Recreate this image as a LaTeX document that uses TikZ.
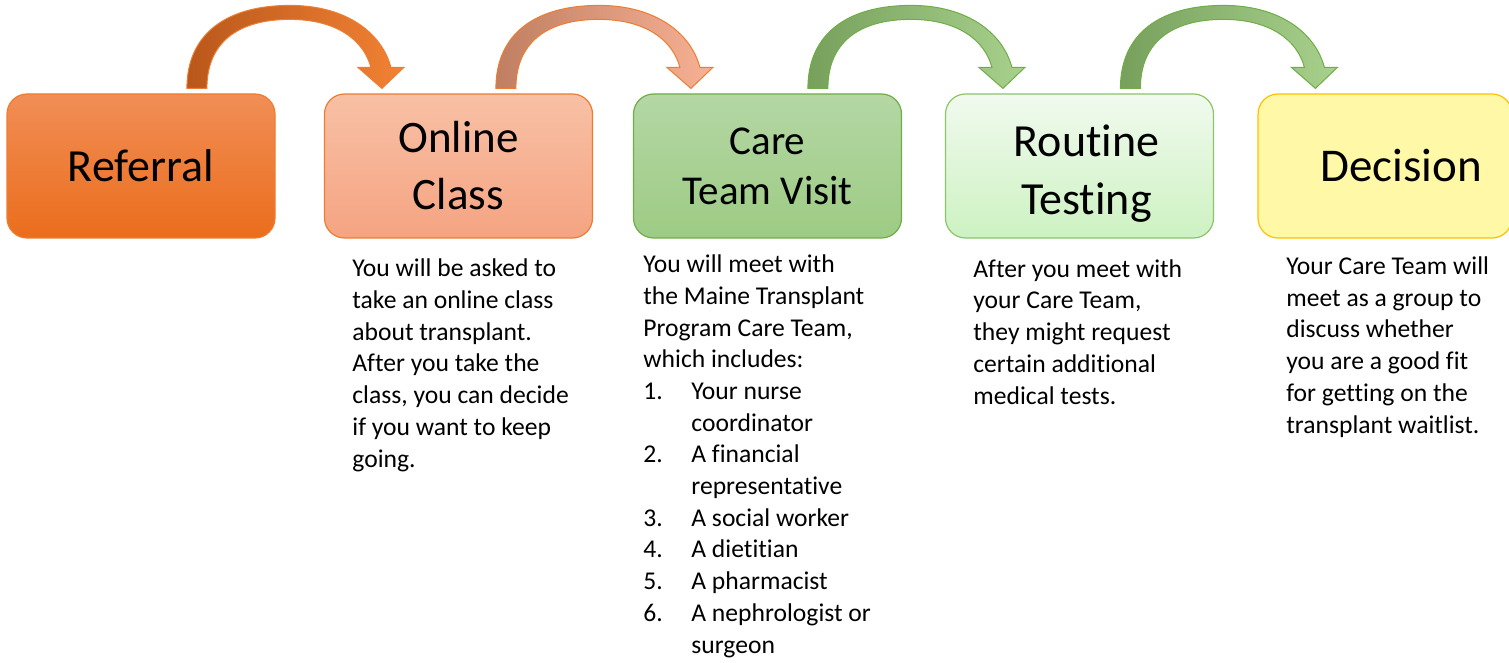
\documentclass[tikz,border=0pt]{standalone}
\usepackage{fontspec}
\setmainfont{Carlito}[Ligatures=NoCommon]
\usetikzlibrary{calc}

% Curved block arrow from the top of one box down onto the next one
\newcommand{\bendarrow}[3]{%
  \begin{scope}[shift={($(#1.north -| #2.west)+(-137,-5)$)}]
    \draw[#3] (0,0) .. controls (0,-55) and (40,-83) .. (103,-83)
      .. controls (160,-83) and (195,-55) .. (204,-21)
      -- (217,-21) -- (195,0) -- (171,-21) -- (184,-21)
      .. controls (177,-48) and (150,-69) .. (103,-69)
      .. controls (50,-69) and (20,-45) .. (20,0) -- cycle;
  \end{scope}}

% One numbered entry of the care team list
\newcommand{\teamitem}[2]{\makebox[24pt][l]{#1}#2}

\begin{document}
\begin{tikzpicture}[x=0.5pt,y=-0.5pt,
  stagebox/.style={rounded corners=10pt, minimum width=134pt, minimum height=72pt,
    inner sep=0pt, line width=0.6pt, align=center},
  bodytext/.style={anchor=base west, inner sep=0pt, align=left,
    font=\fontsize{12.8}{15.85}\selectfont}]
% Define colours
\definecolor{orangeline}{RGB}{237,125,49}
\definecolor{greenline}{RGB}{112,173,71}
\definecolor{paleline}{RGB}{139,196,106}
\definecolor{goldline}{RGB}{255,192,0}

\clip (0,0) rectangle (1509,663);

% Stage boxes
\node[stagebox, draw=orangeline, top color={rgb,255:red,241;green,142;blue,86},
  bottom color={rgb,255:red,235;green,109;blue,28},
  font=\fontsize{23}{28}\selectfont] (referral) at (141,166) {Referral};
\node[stagebox, draw=orangeline, top color={rgb,255:red,248;green,192;blue,165},
  bottom color={rgb,255:red,245;green,164;blue,130},
  font=\fontsize{22.5}{28.5}\selectfont] (online) at (458.5,166) {Online\\Class};
\node[stagebox, draw=greenline, top color={rgb,255:red,180;green,215;blue,164},
  bottom color={rgb,255:red,157;green,203;blue,132},
  font=\fontsize{20.5}{25}\selectfont] (care) at (767.5,166) {Care\\Team Visit};
\node[stagebox, draw=paleline, top color={rgb,255:red,241;green,250;blue,238},
  bottom color={rgb,255:red,205;green,242;blue,194}] (testing) at (1079.5,166) {};
\node[inner sep=0pt, align=center, font=\fontsize{23}{29}\selectfont]
  (testingtitle) at ($(testing.center)+(7,8)$) {Routine\\Testing};
\node[stagebox, minimum width=127pt, draw=goldline, fill={rgb,255:red,255;green,248;blue,166},
  font=\fontsize{23.5}{28}\selectfont] (decision) at (1385,166) {\hspace*{16pt}Decision};

% Curved arrows
\bendarrow{referral}{online}{draw=orangeline, line width=0.5pt,
  left color={rgb,255:red,185;green,87;blue,26}, right color={rgb,255:red,242;green,130;blue,52}}
\bendarrow{online}{care}{draw=orangeline, line width=0.5pt,
  left color={rgb,255:red,192;green,127;blue,98}, right color={rgb,255:red,247;green,177;blue,149}}
\bendarrow{care}{testing}{draw=greenline, line width=0.5pt,
  left color={rgb,255:red,119;green,160;blue,92}, right color={rgb,255:red,169;green,209;blue,142}}
\bendarrow{testing}{decision}{draw=greenline, line width=0.5pt,
  left color={rgb,255:red,119;green,160;blue,92}, right color={rgb,255:red,169;green,209;blue,142}}

% Descriptions under the boxes (placed at the baseline of their last line)
\node[bodytext] (onlinetext) at (352,467) {You will be asked to\\take an online class\\about transplant.\\After you take the\\class, you can decide\\if you want to keep\\going.};
\node[bodytext] (caretext) at (643,653) {You will meet with\\the Maine Transplant\\Program Care Team,\\which includes:\\
  \teamitem{1.}{Your nurse}\\\hspace*{24pt}coordinator\\
  \teamitem{2.}{A financial}\\\hspace*{24pt}representative\\
  \teamitem{3.}{A social worker}\\
  \teamitem{4.}{A dietitian}\\
  \teamitem{5.}{A pharmacist}\\
  \teamitem{6.}{A nephrologist or}\\\hspace*{24pt}surgeon};
\node[bodytext] (testingtext) at (973,404) {After you meet with\\your Care Team,\\they might request\\certain additional\\medical tests.};
\node[bodytext] (decisiontext) at (1286,433) {Your Care Team will\\meet as a group to\\discuss whether\\you are a good fit\\for getting on the\\transplant waitlist.};
\end{tikzpicture}
\end{document}
